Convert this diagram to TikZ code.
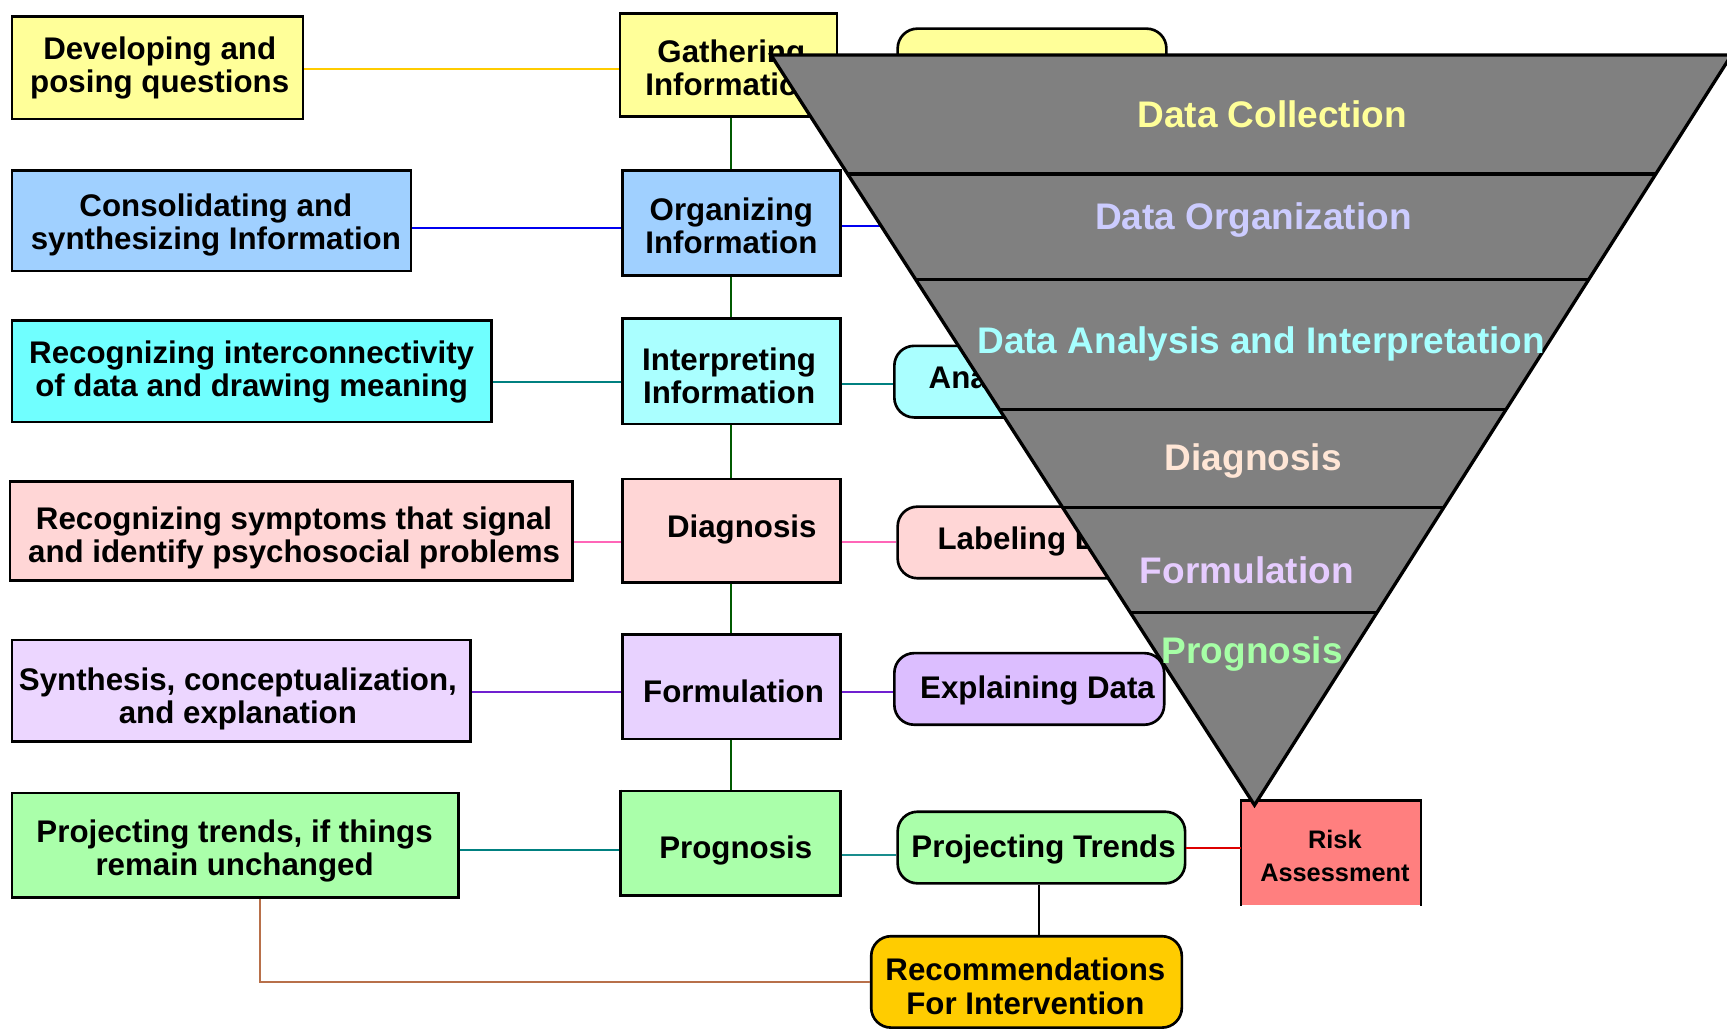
\documentclass[tikz,border=0pt]{standalone}
\usepackage{fontspec}
\setmainfont{Liberation Sans}
\newcommand\dgfont{\bfseries\fontsize{28.4}{30}\selectfont}
\newcommand\dgtrifont{\bfseries\fontsize{33.6}{36}\selectfont}
\newcommand\dgriskfont{\bfseries\fontsize{23}{30}\selectfont}
\definecolor{cYel}{HTML}{FFFF99}
\definecolor{cBlu}{HTML}{A0D0FF}
\definecolor{cCya}{HTML}{70FFFF}
\definecolor{cCyaL}{HTML}{AAFFFF}
\definecolor{cPnk}{HTML}{FFD6D6}
\definecolor{cLavL}{HTML}{ECD6FF}
\definecolor{cLavM}{HTML}{E8D2FF}
\definecolor{cLavR}{HTML}{DCBEFF}
\definecolor{cGrn}{HTML}{AAFFAA}
\definecolor{cRisk}{HTML}{FF7F7F}
\definecolor{cRec}{HTML}{FFCC00}
\definecolor{cTri}{HTML}{808080}
\definecolor{lYel}{HTML}{FFCC00}
\definecolor{lBlu}{HTML}{0000F0}
\definecolor{lTeal}{HTML}{008080}
\definecolor{lPnk}{HTML}{FF66B8}
\definecolor{lPur}{HTML}{7020D0}
\definecolor{lGrn}{HTML}{005A00}
\definecolor{lRed}{HTML}{DD0000}
\definecolor{lBrn}{HTML}{B8704A}
\definecolor{tYel}{HTML}{FFFF99}
\definecolor{tOrg}{HTML}{CCCCFF}
\definecolor{tAna}{HTML}{A6FFFF}
\definecolor{tDia}{HTML}{FFE6D6}
\definecolor{tFor}{HTML}{E6CCFF}
\definecolor{tPro}{HTML}{A6FFA6}
\begin{document}
\begin{tikzpicture}[x=1pt,y=-1pt,
  box/.style={draw=black, line width=2.4pt, inner sep=0pt},
  rbox/.style={box, rounded corners=18pt, minimum height=65pt},
  txt/.style={inner sep=0pt, align=center, font=\dgfont},
  link/.style={line width=1.8pt},
  tlabel/.style={font=\dgtrifont, inner sep=0pt}]
\useasboundingbox (0,0) rectangle (1568,935);
\fill[white] (0,0) rectangle (1568,935);

% helper coordinates for connector heights
\coordinate (y1) at (0,63);
\coordinate (y2) at (0,207);
\coordinate (y3) at (0,347);
\coordinate (y4) at (0,492);
\coordinate (y5) at (0,628);
\coordinate (y6) at (0,772);
\coordinate (yr2) at (0,205);
\coordinate (yr3) at (0,349);
\coordinate (yr4) at (0,492);
\coordinate (yr5) at (0,628);
\coordinate (yr6) at (0,776);
\coordinate (yrk) at (0,770);
\coordinate (xv) at (664,0);
\coordinate (xr) at (943,0);
\coordinate (xb) at (236,0);
\coordinate (R2end) at (860,205);

% left column
\node[box, fill=cYel, minimum width=264pt, minimum height=93pt] (L1) at (143,61.5) {};
\node[txt] (L1t) at (145,62) {Developing and\\posing questions};
\node[box, fill=cBlu, minimum width=362pt, minimum height=91pt] (L2) at (192,200.5) {};
\node[txt] (L2t) at (196,204.5) {Consolidating and\\synthesizing Information};
\node[box, fill=cCya, minimum width=435pt, minimum height=92pt] (L3) at (228.5,337) {};
\node[txt] (L3t) at (228.5,337.5) {Recognizing interconnectivity\\of data and drawing meaning};
\node[box, fill=cPnk, minimum width=511pt, minimum height=90pt] (L4) at (264.5,482) {};
\node[txt] (L4t) at (267,488) {Recognizing symptoms that signal\\and identify psychosocial problems};
\node[box, fill=cLavL, minimum width=416pt, minimum height=92pt] (L5) at (219,627) {};
\node[txt] (L5t) at (216,634.5) {Synthesis, conceptualization,\\and explanation};
\node[box, fill=cGrn, minimum width=405pt, minimum height=95pt] (L6) at (213.5,767.5) {};
\node[txt] (L6t) at (213,773) {Projecting trends, if things\\remain unchanged};

% middle column
\node[box, fill=cYel, minimum width=197pt, minimum height=94pt] (M1) at (661.5,59) {};
\node[txt] (M1t) at (664,62) {Gathering\\Information};
\node[box, fill=cBlu, minimum width=198pt, minimum height=95pt] (M2) at (664,202.5) {};
\node[txt] (M2t) at (664,205) {Organizing\\Information};
\node[box, fill=cCyaL, minimum width=198pt, minimum height=96pt] (M3) at (664,337) {};
\node[txt] (M3t) at (662,341) {Interpreting\\Information};
\node[box, fill=cPnk, minimum width=198pt, minimum height=94pt] (M4) at (664,482) {};
\node[txt] (M4t) at (673.5,481) {Diagnosis};
\node[box, fill=cLavM, minimum width=198pt, minimum height=95pt] (M5) at (664,623.5) {};
\node[txt] (M5t) at (666,628) {Formulation};
\node[box, fill=cGrn, minimum width=200pt, minimum height=95pt] (M6) at (663,765.5) {};
\draw[line width=2pt] ([xshift=2pt]M6.north west) -- ([xshift=2pt]M6.south west);
\node[txt] (M6t) at (668,772) {Prognosis};

% right column
\node[rbox, fill=cYel, minimum width=244pt] (R1) at (937,58.5) {};
\node[rbox, fill=cCyaL, minimum width=245pt] (R3) at (934.5,346.5) {};
\node[inner sep=0pt, anchor=base west, font=\dgfont] (R3t) at (843,353) {Ana};
\node[rbox, fill=cPnk, minimum width=245pt] (R4) at (937.5,492.5) {};
\node[inner sep=0pt, anchor=base west, font=\dgfont] (R4t) at (851,499) {Labeling D};
\node[rbox, fill=cLavR, minimum width=245pt] (R5) at (934.5,625.5) {};
\node[txt] (R5t) at (942,626.5) {Explaining Data};
\node[rbox, fill=cGrn, minimum width=261pt] (R6) at (945.5,769.5) {};
\node[txt] (R6t) at (947.5,771) {Projecting Trends};
\node[rbox, fill=cRec, minimum width=282pt, minimum height=83pt] (Rec) at (932,891.5) {};
\node[txt] (Rect) at (931,895.5) {Recommendations\\For Intervention};
\node[fill=cRisk, inner sep=0pt, minimum width=163pt, minimum height=95pt] (Risk) at (1208.5,774.5) {};
\draw[line width=2.4pt] (Risk.south west) -- (Risk.north west) -- (Risk.north east) -- (Risk.south east);
\node[txt, font=\dgriskfont] (Riskt) at (1212,777.5) {Risk\\Assessment};

% connectors left -> middle
\draw[link, lYel] (L1.east |- y1) -- (M1.west |- y1);
\draw[link, lBlu] (L2.east |- y2) -- (M2.west |- y2);
\draw[link, lTeal] (L3.east |- y3) -- (M3.west |- y3);
\draw[link, lPnk] (L4.east |- y4) -- (M4.west |- y4);
\draw[link, lPur] (L5.east |- y5) -- (M5.west |- y5);
\draw[link, lTeal] (L6.east |- y6) -- (M6.west |- y6);

% vertical spine
\draw[link, lGrn] (M1.south -| xv) -- (M2.north -| xv);
\draw[link, lGrn] (M2.south -| xv) -- (M3.north -| xv);
\draw[link, lGrn] (M3.south -| xv) -- (M4.north -| xv);
\draw[link, lGrn] (M4.south -| xv) -- (M5.north -| xv);
\draw[link, lGrn] (M5.south -| xv) -- (M6.north -| xv);

% connectors middle -> right
\draw[link, lBlu] (M2.east |- yr2) -- (R2end);
\draw[link, lTeal] (M3.east |- yr3) -- (R3.west |- yr3);
\draw[link, lPnk] (M4.east |- yr4) -- (R4.west |- yr4);
\draw[link, lPur] (M5.east |- yr5) -- (R5.west |- yr5);
\draw[link, lTeal!90!white] (M6.east |- yr6) -- (R6.west |- yr6);
\draw[link, lRed] (R6.east |- yrk) -- (Risk.west |- yrk);
\draw[link, black] (R6.south -| xr) -- (Rec.north -| xr);
\draw[link, lBrn] (L6.south -| xb) |- (Rec.west);

% funnel
\coordinate (TL) at (700,50);
\coordinate (TR) at (1572,50);
\coordinate (TB) at (1139,731);
\fill[cTri] (TL) -- (TR) -- (TB) -- cycle;
\begin{scope}
\clip (TL) -- (TR) -- (TB) -- cycle;
\foreach \yy in {158,254,372,461,556} \draw[line width=3pt] (600,\yy) -- (1700,\yy);
\end{scope}
\draw[line width=3pt, line join=miter] (TL) -- (TR) -- (TB) -- cycle;

\node[tlabel, text=tYel] (T1) at (1155,104) {Data Collection};
\node[tlabel, text=tOrg] (T2) at (1138,200) {Data Organization};
\node[tlabel, text=tAna] (T3) at (1145,312) {Data Analysis and Interpretation};
\node[tlabel, text=tDia] (T4) at (1138,419) {Diagnosis};
\node[tlabel, text=tFor] (T5) at (1132,518) {Formulation};
\node[tlabel, text=tPro] (T6) at (1137,594) {Prognosis};
\end{tikzpicture}
\end{document}
